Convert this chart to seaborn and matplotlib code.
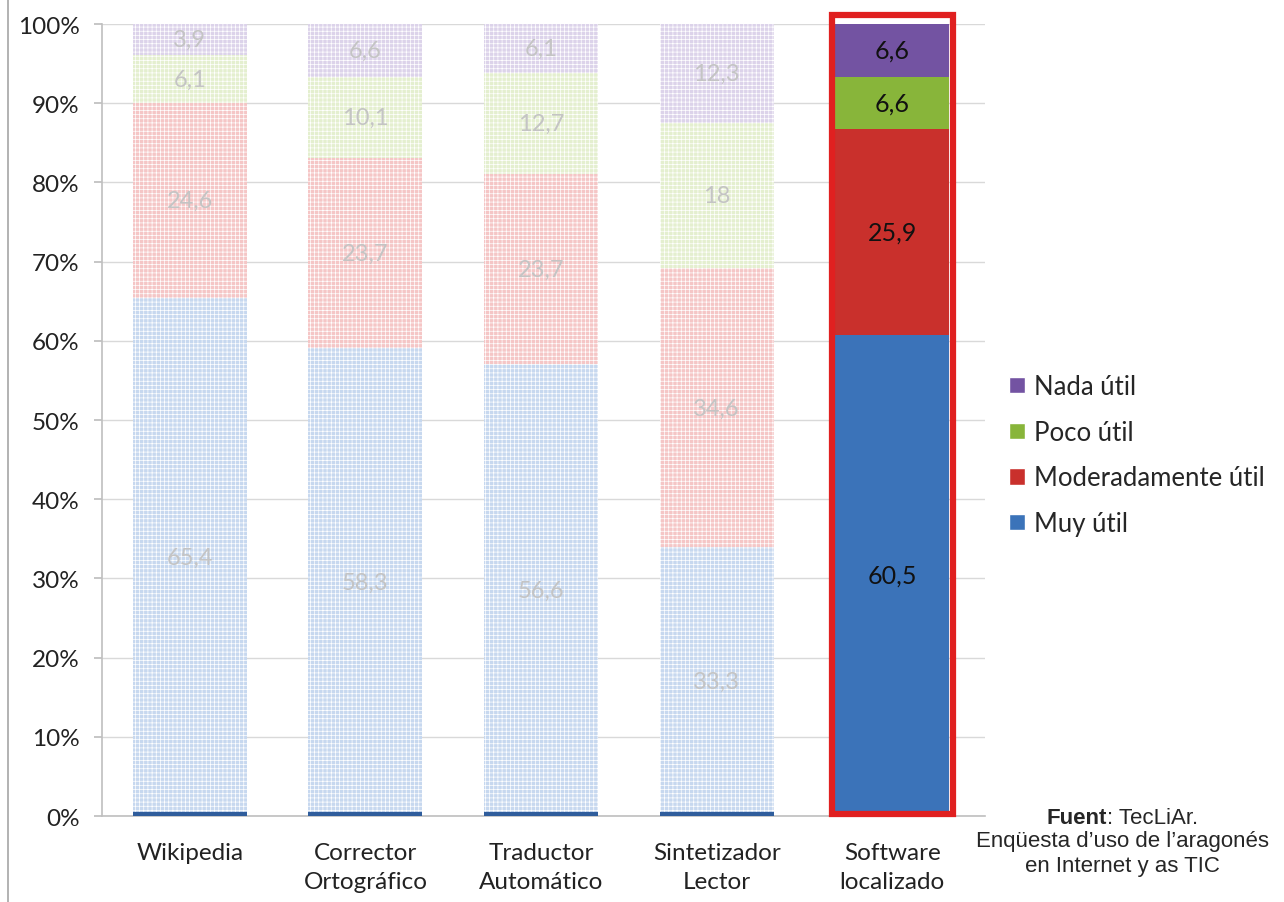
"""
Utilidad percibida de las herramientas en aragonés (gráfico de barras 100% apiladas)
"""

import numpy as np
import pandas as pd
import matplotlib
matplotlib.use('Agg')
import matplotlib.pyplot as plt
import seaborn as sns
from matplotlib.patches import Patch, Rectangle
from matplotlib.lines import Line2D

# Datos
categorias = ['Wikipedia', 'Corrector\nOrtográfico', 'Traductor\nAutomático',
              'Sintetizador\nLector', 'Software\nlocalizado']
muy_util = [65.4, 58.3, 56.6, 33.3, 60.5]
moderadamente_util = [24.6, 23.7, 23.7, 34.6, 25.9]
poco_util = [6.1, 10.1, 12.7, 18, 6.6]
nada_util = [3.9, 6.6, 6.1, 12.3, 6.6]

series = ['Muy útil', 'Moderadamente útil', 'Poco útil', 'Nada útil']
destacada = 'Software\nlocalizado'

colores = {'Muy útil': '#3b73b9', 'Moderadamente útil': '#c9302c',
           'Poco útil': '#88b53a', 'Nada útil': '#7353a2'}
colores_claros = {'Muy útil': '#c7d8ef', 'Moderadamente útil': '#f5c6c6',
                  'Poco útil': '#e4efcf', 'Nada útil': '#dcd3ea'}

df = pd.DataFrame({'categoria': categorias, 'Muy útil': muy_util,
                   'Moderadamente útil': moderadamente_util,
                   'Poco útil': poco_util, 'Nada útil': nada_util})
# 100% apilado: normalizamos cada barra
tot = df[series].sum(axis=1)
pct = df[series].div(tot, axis=0) * 100
acum = pct.cumsum(axis=1)

sns.set_theme(style='whitegrid')
plt.rcParams['font.family'] = ['Lato', 'DejaVu Sans']
plt.rcParams['hatch.linewidth'] = 0.5

fig = plt.figure(figsize=(12.84, 9.03), dpi=100)
ax = fig.add_axes([0.0794, 0.0952, 0.688, 0.877])

ancho = 0.65
# barras acumuladas, de arriba hacia abajo
for s in series[::-1]:
    d = pd.DataFrame({'categoria': categorias, 'valor': acum[s]})
    paleta = [colores[s] if c == destacada else colores_claros[s] for c in categorias]
    n0 = len(ax.patches)
    sns.barplot(data=d, x='categoria', y='valor', hue='categoria', order=categorias,
                palette=paleta, width=ancho, legend=False, ax=ax,
                saturation=1, linewidth=0, edgecolor='white')
    for p, c in zip(ax.patches[n0:], categorias):
        if c != destacada:
            p.set_hatch('++++')
            p.set_edgecolor('white')

# línea azul oscura en la base de las barras atenuadas
for i, c in enumerate(categorias):
    if c != destacada:
        ax.hlines(0.25, i - ancho / 2, i + ancho / 2, color='#2f5d9c', lw=3, zorder=3)

# etiquetas de valores
for i, c in enumerate(categorias):
    for s in series:
        v = df.loc[i, s]
        y = acum.loc[i, s] - pct.loc[i, s] / 2
        txt = f'{v:g}'.replace('.', ',')
        if c == destacada:
            ax.text(i, y, txt, ha='center', va='center', fontsize=18, color='#111111')
        else:
            ax.text(i, y, txt, ha='center', va='center', fontsize=17, color='#c4c4c4')

# recuadro rojo de la barra destacada
k = categorias.index(destacada)
ax.add_patch(Rectangle((k - 0.345, 0.2), 0.69, 101.0, fill=False, ec='#e02020',
                       lw=4.5, clip_on=False, zorder=5))

ax.set_xlim(-0.5, 4.53)
ax.set_ylim(0, 100)
ax.set_yticks(np.arange(0, 101, 10))
ax.set_yticklabels([f'{t}%' for t in range(0, 101, 10)])
ax.set_xlabel('')
ax.set_ylabel('')
ax.grid(axis='x', visible=False)
ax.grid(axis='y', color='#d9d9d9', lw=1)
ax.tick_params(axis='both', labelsize=17.5, colors='#222222')
ax.tick_params(axis='y', left=True, length=6, color='#bfbfbf', pad=10)
ax.tick_params(axis='x', pad=13)
for lbl in ax.get_xticklabels():
    lbl.set_linespacing(1.45)
for lado in ['top', 'right']:
    ax.spines[lado].set_visible(False)
for lado in ['left', 'bottom']:
    ax.spines[lado].set_color('#bfbfbf')
    ax.spines[lado].set_linewidth(1.2)

# leyenda
handles = [Patch(facecolor=colores[s], label=s) for s in series[::-1]]
fig.legend(handles=handles, loc='upper left', bbox_to_anchor=(0.768, 0.610),
           frameon=False, fontsize=18.5, handlelength=0.6, handleheight=0.6,
           handletextpad=0.35, labelspacing=0.8)

# fuente
fuente = ['Liberation Sans Narrow', 'Liberation Sans']
fig.text(0.862, 0.094, 'Fuent', ha='right', va='center', fontsize=16,
         fontweight='bold', family=fuente)
fig.text(0.862, 0.094, ': TecLiAr.', ha='left', va='center', fontsize=16,
         family=fuente)
fig.text(0.874, 0.0676, 'Enqüesta d’uso de l’aragonés', ha='center', va='center',
         fontsize=16, family=fuente)
fig.text(0.874, 0.040, 'en Internet y as TIC', ha='center', va='center',
         fontsize=16, family=fuente)

# borde izquierdo de la imagen
fig.add_artist(Line2D([0.0065, 0.0065], [0, 1], color='#a6a6a6', lw=1.2))

fig.savefig('out.png', dpi=100)
